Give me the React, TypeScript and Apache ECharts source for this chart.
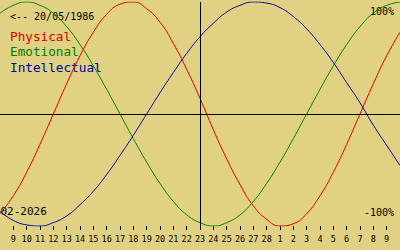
import React, { useEffect, useRef } from "react";
import * as echarts from "echarts";

const days = [
  "02-08", "02-09", "02-10", "02-11", "02-12", "02-13", "02-14", "02-15", "02-16", "02-17",
  "02-18", "02-19", "02-20", "02-21", "02-22", "02-23", "02-24", "02-25", "02-26", "02-27",
  "02-28", "03-01", "03-02", "03-03", "03-04", "03-05", "03-06", "03-07", "03-08", "03-09", "03-10",
];

const physical = [
  -0.89, -0.73, -0.52, -0.27, 0, 0.27, 0.52, 0.73, 0.89, 0.98, 1.0, 0.94, 0.82, 0.63, 0.4, 0.14,
  -0.14, -0.4, -0.63, -0.82, -0.94, -1.0, -0.98, -0.89, -0.73, -0.52, -0.27, 0, 0.27, 0.52, 0.73,
];

const emotional = [
  0.9, 0.97, 1, 0.97, 0.9, 0.78, 0.62, 0.43, 0.22, 0, -0.22, -0.43, -0.62, -0.78, -0.9, -0.97,
  -1, -0.97, -0.9, -0.78, -0.62, -0.43, -0.22, 0, 0.22, 0.43, 0.62, 0.78, 0.9, 0.97, 1,
];

const intellectual = [
  -0.87, -0.95, -0.99, -1.0, -0.97, -0.91, -0.81, -0.69, -0.54, -0.37, -0.19, 0, 0.19, 0.37, 0.54, 0.69,
  0.81, 0.91, 0.97, 1.0, 0.99, 0.95, 0.87, 0.76, 0.62, 0.46, 0.28, 0.1, -0.1, -0.28, -0.46,
];

const today = "02-23";
const birthLabel = "<-- 20/05/1986";
const monthLabel = "02-2026";
const topLabel = "100%";
const bottomLabel = "-100%";

const BG = "#e0d282";
const RED = "#dd0000";
const GREEN = "#008000";
const BLUE = "#0000a0";
const MONO = "'DejaVu Sans Mono', 'Liberation Mono', monospace";

export default function App() {
  const ref = useRef<HTMLDivElement>(null);

  useEffect(() => {
    if (!ref.current) return;
    const chart = echarts.init(ref.current, undefined, { renderer: "svg" });
    const lineSeries = (name: string, data: number[], color: string, extra: any = {}) => ({
      name,
      type: "line",
      data,
      smooth: true,
      symbol: "none",
      lineStyle: { color, width: 1 },
      itemStyle: { color },
      ...extra,
    });
    const inner = (i: number) => i > 0 && i < days.length - 1;
    chart.setOption({
      animation: false,
      backgroundColor: BG,
      grid: { left: 0, right: 0, top: 2, height: 224 },
      xAxis: {
        type: "category",
        data: days,
        boundaryGap: false,
        axisLine: { show: false, onZero: false },
        axisTick: {
          show: true,
          length: 4,
          inside: false,
          interval: inner,
          lineStyle: { color: "#000", width: 1 },
        },
        axisLabel: {
          interval: inner,
          formatter: (v: string) => String(parseInt(v.split("-")[1], 10)),
          color: "#000",
          fontFamily: MONO,
          fontSize: 8.5,
          margin: 8,
        },
        splitLine: { show: false },
      },
      yAxis: {
        type: "value",
        min: -1,
        max: 1,
        show: false,
      },
      graphic: [
        { type: "text", left: 10, top: 11, style: { text: birthLabel, fill: "#000", font: `10px ${MONO}` } },
        { type: "text", left: 10, top: 29.5, style: { text: "Physical", fill: RED, font: `12.7px ${MONO}` } },
        { type: "text", left: 10, top: 45, style: { text: "Emotional", fill: GREEN, font: `12.7px ${MONO}` } },
        { type: "text", left: 10, top: 60.5, style: { text: "Intellectual", fill: BLUE, font: `12.7px ${MONO}` } },
        { type: "text", left: 370, top: 6, style: { text: topLabel, fill: "#000", font: `10px ${MONO}` } },
        { type: "text", left: 364, top: 207, style: { text: bottomLabel, fill: "#000", font: `10px ${MONO}` } },
        { type: "text", left: 0.5, top: 206, style: { text: monthLabel, fill: "#000", font: `11px ${MONO}` } },
      ],
      series: [
        lineSeries("Physical", physical, RED, {
          markLine: {
            silent: true,
            symbol: "none",
            label: { show: false },
            lineStyle: { color: "#000", width: 1, type: "solid" },
            data: [{ xAxis: today }, { yAxis: 0 }],
          },
        }),
        lineSeries("Emotional", emotional, GREEN),
        lineSeries("Intellectual", intellectual, BLUE),
      ],
    });
    return () => chart.dispose();
  }, []);

  return (
    <div
      ref={ref}
      style={{ position: "absolute", left: 0, top: 0, width: 400, height: 250 }}
    />
  );
}
